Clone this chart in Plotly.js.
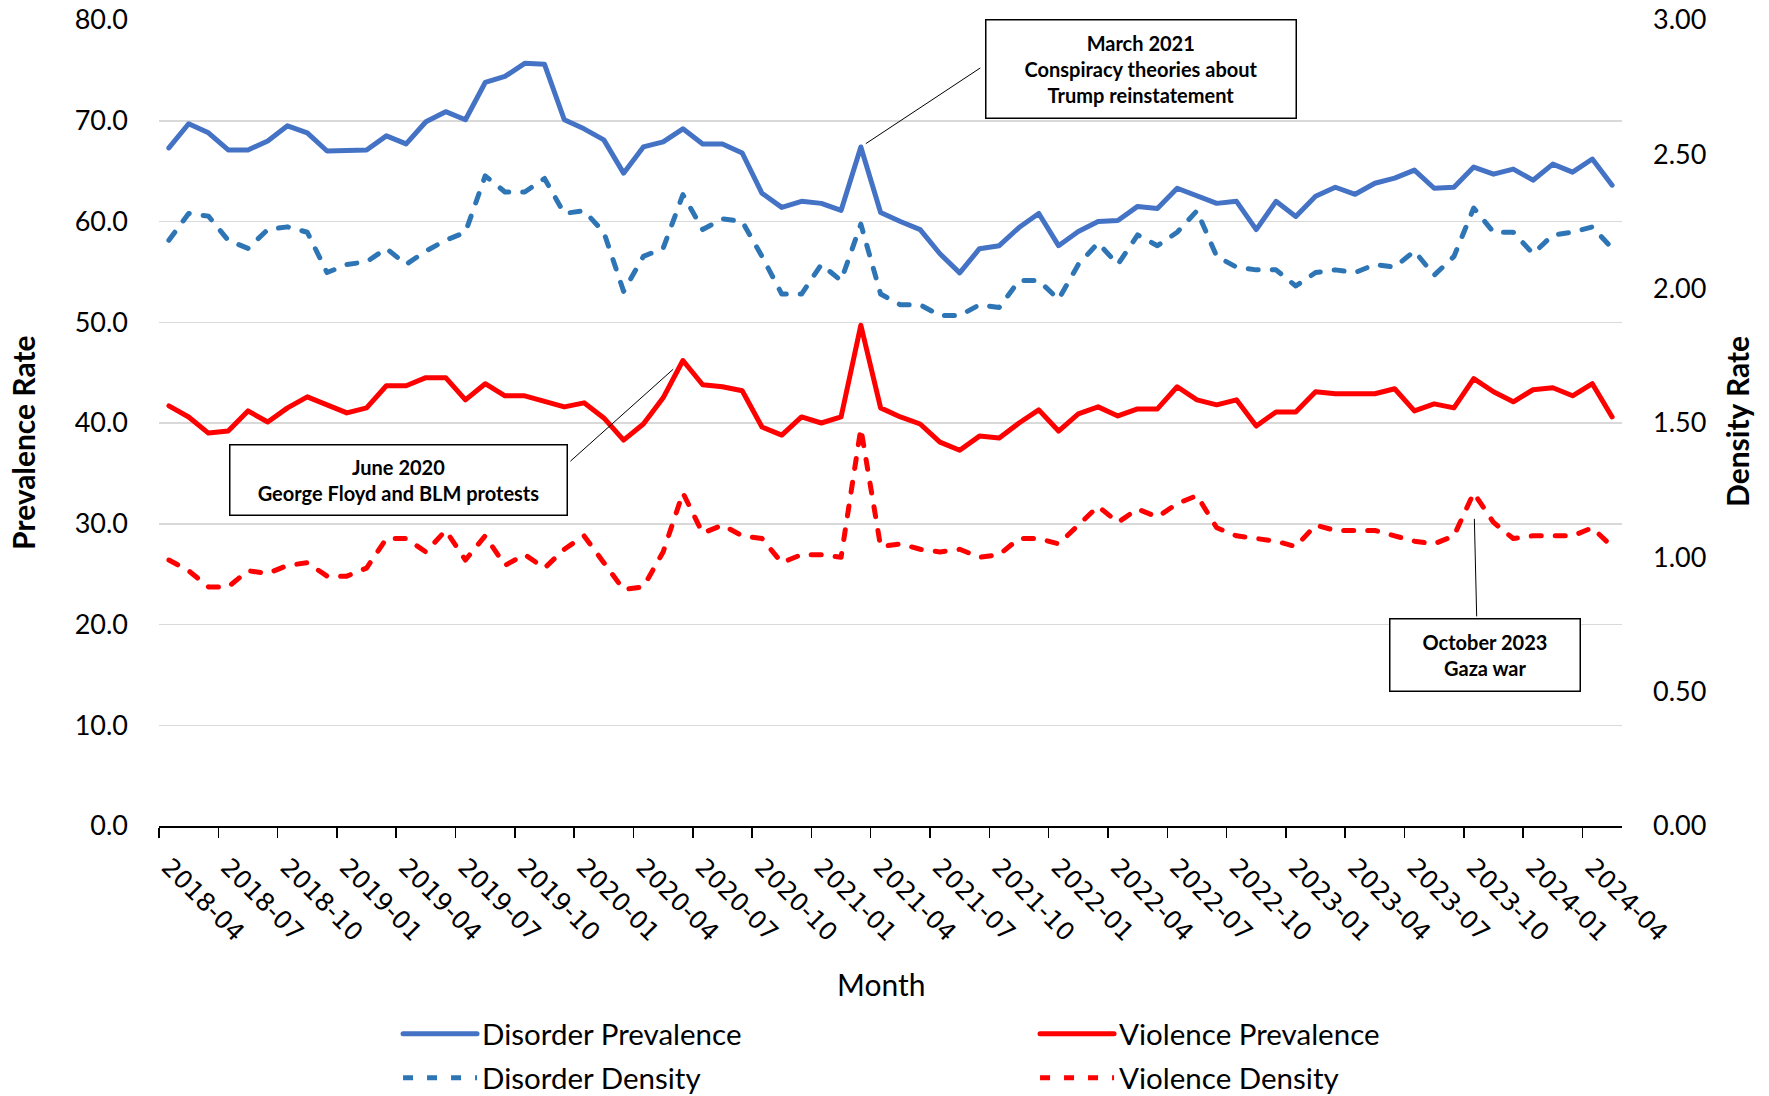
<!DOCTYPE html>
<html>
<head>
<meta charset="utf-8">
<script src="https://cdn.plot.ly/plotly-3.0.1.min.js"></script>
<style>
html,body{margin:0;padding:0;background:#fff;}
#chart{width:1769px;height:1096px;}
#chart .scatterlayer path.js-line, #chart .legend path.js-line{stroke-linecap:round !important; stroke-linejoin:round !important;}
</style>
</head>
<body>
<div id="chart"></div>
<script>
// ---- Data ----
const months = ['2018-04','2018-05','2018-06','2018-07','2018-08','2018-09','2018-10','2018-11','2018-12',
'2019-01','2019-02','2019-03','2019-04','2019-05','2019-06','2019-07','2019-08','2019-09','2019-10','2019-11','2019-12',
'2020-01','2020-02','2020-03','2020-04','2020-05','2020-06','2020-07','2020-08','2020-09','2020-10','2020-11','2020-12',
'2021-01','2021-02','2021-03','2021-04','2021-05','2021-06','2021-07','2021-08','2021-09','2021-10','2021-11','2021-12',
'2022-01','2022-02','2022-03','2022-04','2022-05','2022-06','2022-07','2022-08','2022-09','2022-10','2022-11','2022-12',
'2023-01','2023-02','2023-03','2023-04','2023-05','2023-06','2023-07','2023-08','2023-09','2023-10','2023-11','2023-12',
'2024-01','2024-02','2024-03','2024-04','2024-05'];

const disorderPrevalence = [67.3,69.7,68.8,67.1,67.1,68.0,69.5,68.8,67.0,67.1,
67.1,68.5,67.7,69.9,70.9,70.1,73.8,74.4,75.7,75.6,
70.1,69.2,68.1,64.8,67.4,67.9,69.2,67.7,67.7,66.8,
62.8,61.4,62.0,61.8,61.1,67.4,60.9,60.0,59.2,56.8,
54.9,57.3,57.6,59.4,60.8,57.6,59.0,60.0,60.1,61.5,
61.3,63.3,62.5,61.8,62.0,59.2,62.0,60.5,62.5,63.4,
62.7,63.8,64.3,65.1,63.3,63.4,65.4,64.7,65.2,64.1,
65.7,64.9,66.2,63.6];

const violencePrevalence = [41.7,40.6,39.0,39.2,41.2,40.1,41.5,42.6,41.8,41.0,
41.5,43.7,43.7,44.5,44.5,42.3,43.9,42.7,42.7,42.1,
41.6,42.0,40.5,38.3,39.9,42.5,46.2,43.8,43.6,43.2,
39.6,38.8,40.6,40.0,40.6,49.7,41.5,40.6,39.9,38.1,
37.3,38.7,38.5,40.0,41.3,39.2,40.9,41.6,40.7,41.4,
41.4,43.6,42.3,41.8,42.3,39.7,41.1,41.1,43.1,42.9,
42.9,42.9,43.4,41.2,41.9,41.5,44.4,43.1,42.1,43.3,
43.5,42.7,43.9,40.6];

const disorderDensity = [2.18,2.28,2.27,2.18,2.15,2.22,2.23,2.21,2.06,2.09,
2.10,2.15,2.09,2.14,2.18,2.21,2.42,2.36,2.36,2.41,
2.28,2.29,2.21,1.99,2.12,2.15,2.35,2.22,2.26,2.25,
2.12,1.98,1.98,2.09,2.03,2.24,1.98,1.94,1.94,1.90,
1.90,1.94,1.93,2.03,2.03,1.96,2.09,2.17,2.09,2.20,
2.16,2.21,2.29,2.12,2.08,2.07,2.07,2.01,2.06,2.07,
2.06,2.09,2.08,2.14,2.05,2.12,2.30,2.21,2.21,2.13,
2.20,2.21,2.23,2.15];

const violenceDensity = [0.99,0.95,0.89,0.89,0.95,0.94,0.97,0.98,0.93,0.93,
0.96,1.07,1.07,1.02,1.10,0.99,1.08,0.97,1.01,0.96,
1.03,1.08,0.98,0.88,0.89,1.02,1.24,1.09,1.12,1.08,
1.07,0.98,1.01,1.01,1.00,1.48,1.04,1.05,1.03,1.02,
1.03,1.00,1.01,1.07,1.07,1.05,1.12,1.19,1.13,1.18,
1.15,1.20,1.23,1.11,1.08,1.07,1.06,1.04,1.12,1.10,
1.10,1.10,1.08,1.06,1.05,1.08,1.24,1.13,1.07,1.08,
1.08,1.08,1.11,1.04];

const seriesNames = ['Disorder Prevalence','Violence Prevalence','Disorder Density','Violence Density'];
const leftTitle = 'Prevalence Rate';
const rightTitle = 'Density Rate';
const xTitle = 'Month';
const events = [
  {month:'2021-03', series:'dp', text:'March 2021<br>Conspiracy theories about<br>Trump reinstatement'},
  {month:'2020-06', series:'vp', text:'June 2020<br>George Floyd and BLM protests'},
  {month:'2023-10', series:'vd', text:'October 2023<br>Gaza war'}
];

// ---- Build ----
const idx = months.map((m,i)=>i);
const labelIdx = idx.filter(i=>i%3===0);
const labelText = labelIdx.map(i=>months[i]);
const boundaries = labelIdx.map(i=>i-0.5);

const FONT = 'Lato, "Open Sans", "DejaVu Sans", sans-serif';
const TICKFONT_X = '"DejaVu Sans", Verdana, sans-serif';
const blue = '#4472C4', blue2 = '#2E75B6', red = '#FF0000';
const LW = 5;
const DASH = '10px,14px';

const traces = [
  {x:idx, y:disorderPrevalence, name:seriesNames[0], type:'scatter', mode:'lines', line:{color:blue, width:LW}, yaxis:'y', legend:'legend'},
  {x:idx, y:violencePrevalence, name:seriesNames[1], type:'scatter', mode:'lines', line:{color:red, width:LW}, yaxis:'y', legend:'legend'},
  {x:idx, y:disorderDensity, name:seriesNames[2], type:'scatter', mode:'lines', line:{color:blue2, width:LW, dash:DASH}, yaxis:'y2', legend:'legend2'},
  {x:idx, y:violenceDensity, name:seriesNames[3], type:'scatter', mode:'lines', line:{color:red, width:LW, dash:DASH}, yaxis:'y2', legend:'legend2'}
];

const seriesMap = {dp:[disorderPrevalence,'y'], vp:[violencePrevalence,'y'], vd:[violenceDensity,'y2']};
function pt(ev){ const i = months.indexOf(ev.month); const s = seriesMap[ev.series]; return {x:i, y:s[0][i], yref:s[1]}; }

const p0 = pt(events[0]), p1 = pt(events[1]), p2 = pt(events[2]);
const boxStyle = {xref:'paper', yref:'paper', xanchor:'center', yanchor:'middle', showarrow:false, bordercolor:'#000', borderwidth:1.5, borderpad:0, bgcolor:'#fff', align:'center', valign:'middle', font:{family:FONT, size:20, color:'#000'}};
const arrowStyle = {xref:'x', text:'', showarrow:true, arrowhead:0, arrowwidth:1, arrowcolor:'#000'};
const titleStyle = {xref:'paper', yref:'paper', xanchor:'center', yanchor:'middle', showarrow:false, font:{family:FONT, size:30, color:'#000'}};

const annotations = [
  Object.assign({}, arrowStyle, {x:p0.x, y:p0.y, yref:p0.yref, ax:121, ay:-80, standoff:6}),
  Object.assign({}, arrowStyle, {x:p1.x, y:p1.y, yref:p1.yref, ax:-114, ay:102, standoff:13}),
  Object.assign({}, arrowStyle, {x:p2.x, y:p2.y, yref:p2.yref, ax:3, ay:125, standoff:26}),
  Object.assign({}, boxStyle, {x:0.6709, y:0.9398, width:309, height:97, text:'<b>'+events[0].text+'</b>'}),
  Object.assign({}, boxStyle, {x:0.1634, y:0.4299, width:336, height:69, text:'<b>'+events[1].text+'</b>'}),
  Object.assign({}, boxStyle, {x:0.9064, y:0.2122, width:189, height:71, text:'<b>'+events[2].text+'</b>'}),
  Object.assign({}, titleStyle, {x:-0.0930, y:0.4752, textangle:-90, text:'<b>'+leftTitle+'</b>'}),
  Object.assign({}, titleStyle, {x:1.0786, y:0.5025, textangle:-90, text:'<b>'+rightTitle+'</b>'}),
  Object.assign({}, titleStyle, {x:0.4935, y:-0.196, text:xTitle})
];

const legendBase = {orientation:'h', xanchor:'left', yanchor:'top', font:{size:29.5, family:FONT, color:'#000'}, entrywidth:548, itemwidth:74, traceorder:'normal', bgcolor:'rgba(0,0,0,0)'};

const layout = {
  width:1769, height:1096,
  margin:{l:159, r:147, t:20, b:270, pad:0, autoexpand:false},
  paper_bgcolor:'#fff', plot_bgcolor:'#fff',
  font:{family:FONT, color:'#000', size:27},
  showlegend:true,
  legend:Object.assign({}, legendBase, {x:0.1634, y:-0.2258}),
  legend2:Object.assign({}, legendBase, {x:0.1634, y:-0.2804}),
  xaxis:{range:[-0.5, months.length-0.5], tickmode:'array', tickvals:labelIdx, ticktext:labelText, tickangle:45,
    ticks:'', tickfont:{size:25, family:TICKFONT_X}, showgrid:false, zeroline:false, showline:true, linecolor:'#000', linewidth:1.5,
    ticklabelstandoff:15, automargin:false,
    minor:{tickmode:'array', tickvals:boundaries, ticks:'outside', ticklen:10, tickwidth:1.5, tickcolor:'#000', showgrid:false}},
  xaxis2:{overlaying:'x', anchor:'y', side:'bottom', range:[-0.5, months.length-0.5], tickmode:'array', tickvals:boundaries,
    ticks:'inside', ticklen:10, tickwidth:1.5, tickcolor:'#000', showticklabels:false, showgrid:false, zeroline:false, showline:false},
  yaxis:{range:[0,80], tick0:0, dtick:10, tickformat:'.1f', tickfont:{size:27}, gridcolor:'#d9d9d9', gridwidth:1.5,
    zeroline:false, showline:false, ticks:'', ticklabelstandoff:30, automargin:false},
  yaxis2:{overlaying:'y', side:'right', range:[0,3], tick0:0, dtick:0.5, tickformat:'.2f', tickfont:{size:27},
    showgrid:false, zeroline:false, showline:false, ticks:'', ticklabelstandoff:30, automargin:false},
  annotations:annotations
};

Plotly.newPlot('chart', traces, layout, {staticPlot:true, displayModeBar:false});
</script>
</body>
</html>
